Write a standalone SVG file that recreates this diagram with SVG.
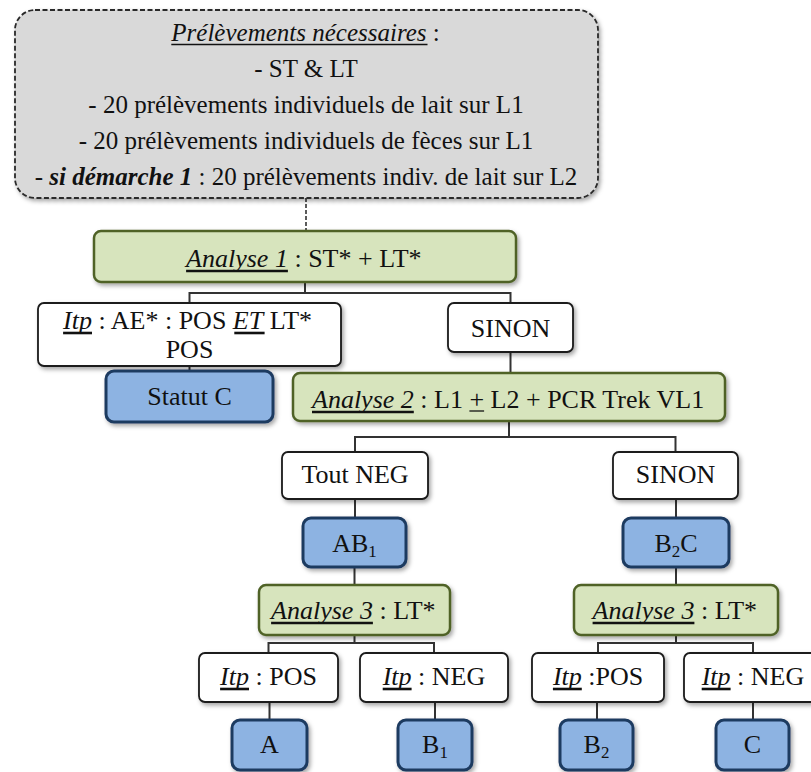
<svg xmlns="http://www.w3.org/2000/svg" width="811" height="772" viewBox="0 0 811 772">
<defs>
<filter id="sh" x="-10%" y="-10%" width="125%" height="140%">
<feDropShadow dx="2" dy="2.5" stdDeviation="2" flood-color="#000" flood-opacity="0.35"/>
</filter>
<style>
text{font-family:"Liberation Serif","Times New Roman",serif;fill:#111;}
.t25{font-size:25px;}
.t26{font-size:26px;}
.it{font-style:italic;}
.bi{font-style:italic;font-weight:bold;}
.sub{font-size:17px;}
.mid{text-anchor:middle;}
.top{fill:#d9d9d9;stroke:#2a2a2a;stroke-width:1.8;stroke-dasharray:5 2.5;filter:url(#sh);}
.green{fill:#d7e4bd;stroke:#4f6228;stroke-width:2.5;filter:url(#sh);}
.blue{fill:#8db3e2;stroke:#1f3a60;stroke-width:3;filter:url(#sh);}
.white{fill:#fff;stroke:#1a1a1a;stroke-width:1.8;filter:url(#sh);}
.ul{stroke:#111;stroke-width:2.6;}
.ulthin{stroke:#111;stroke-width:1.3;}
.conn{fill:none;stroke:#333;stroke-width:2;}
.dash{fill:none;stroke:#333;stroke-width:1.6;stroke-dasharray:4 2;}
</style>
</defs>

<g id="connectors">
<path class="dash" d="M306 198 V231"/>
<path class="conn" d="M305 282 V293 M189.5 303 V293 H510.5 V303"/>
<path class="conn" d="M189.5 366 V371"/>
<path class="conn" d="M510.5 352 V373"/>
<path class="conn" d="M509 421 V437 M355 452 V437 H675.5 V452"/>
<path class="conn" d="M355 499 V518 M354.5 567 V585"/>
<path class="conn" d="M676 499 V518 M676 567 V585"/>
<path class="conn" d="M354.5 635 V643 M268.5 653 V643 H434 V653"/>
<path class="conn" d="M676 635 V643 M598 653 V643 H753 V653"/>
<path class="conn" d="M269.5 702 V720 M435 702 V720 M597 702 V720 M753 702 V720"/>
</g>

<g id="prelevements">
<rect class="top" x="15" y="10" width="583" height="188" rx="20" ry="20"/>
<text class="t25" x="171.3" y="41"><tspan class="it">Prélèvements nécessaires</tspan> :</text>
<line class="ulthin" x1="171.3" y1="44.5" x2="427.5" y2="44.5"/>
<text class="t25 mid" x="306" y="77">- ST &amp; LT</text>
<text class="t25 mid" x="306" y="113">- 20 prélèvements individuels de lait sur L1</text>
<text class="t25 mid" x="306" y="149">- 20 prélèvements individuels de fèces sur L1</text>
<text class="t25 mid" x="306" y="185">- <tspan class="bi">si démarche 1</tspan> : 20 prélèvements indiv. de lait sur L2</text>
</g>

<g id="analyse1">
<rect class="green" x="94" y="231" width="422" height="51" rx="7" ry="7"/>
<text class="t26" x="186.1" y="267"><tspan class="it">Analyse 1</tspan> : ST* + LT*</text>
<line class="ul" x1="186.1" y1="271" x2="287.9" y2="271"/>
</g>

<g id="itp1">
<rect class="white" x="38" y="303" width="303" height="63" rx="6" ry="6"/>
<text class="t26" x="63.1" y="329"><tspan class="it">Itp</tspan> : AE* : POS <tspan class="it">ET</tspan> LT*</text>
<line class="ul" x1="63.1" y1="333" x2="92" y2="333"/>
<line class="ul" x1="234.3" y1="333" x2="264.6" y2="333"/>
<text class="t26 mid" x="189.5" y="358">POS</text>
</g>

<g id="sinon1">
<rect class="white" x="448" y="303" width="125" height="49" rx="6" ry="6"/>
<text class="t26 mid" x="510.5" y="337">SINON</text>
</g>

<g id="statutC">
<rect class="blue" x="106" y="371" width="167" height="51" rx="8" ry="8"/>
<text class="t26 mid" x="189.5" y="405">Statut C</text>
</g>

<g id="analyse2">
<rect class="green" x="293" y="373" width="432" height="48" rx="7" ry="7"/>
<text class="t26" x="312" y="408"><tspan class="it">Analyse 2</tspan> : L1 + L2 + PCR Trek VL1</text>
<line class="ul" x1="312" y1="412" x2="413.8" y2="412"/>
<line class="ulthin" x1="469.4" y1="411" x2="484.1" y2="411"/>
</g>

<g id="toutNEG">
<rect class="white" x="282" y="452" width="146" height="47" rx="6" ry="6"/>
<text class="t26 mid" x="355" y="483">Tout NEG</text>
</g>

<g id="sinon2">
<rect class="white" x="613" y="452" width="125" height="47" rx="6" ry="6"/>
<text class="t26 mid" x="675.5" y="483">SINON</text>
</g>

<g id="AB1">
<rect class="blue" x="303" y="518" width="103" height="49" rx="8" ry="8"/>
<text class="t26 mid" x="354.5" y="552">AB<tspan class="sub" dy="5">1</tspan></text>
</g>

<g id="B2C">
<rect class="blue" x="623" y="518" width="106" height="49" rx="8" ry="8"/>
<text class="t26 mid" x="676" y="552">B<tspan class="sub" dy="5">2</tspan><tspan dy="-5">C</tspan></text>
</g>

<g id="analyse3a">
<rect class="green" x="259" y="585" width="191" height="50" rx="7" ry="7"/>
<text class="t26" x="271.1" y="619"><tspan class="it">Analyse 3</tspan> : LT*</text>
<line class="ul" x1="271.1" y1="623" x2="372.9" y2="623"/>
</g>

<g id="analyse3b">
<rect class="green" x="574" y="585" width="204" height="50" rx="7" ry="7"/>
<text class="t26" x="592.6" y="619"><tspan class="it">Analyse 3</tspan> : LT*</text>
<line class="ul" x1="592.6" y1="623" x2="694.4" y2="623"/>
</g>

<g id="itpPOS1">
<rect class="white" x="199" y="653" width="139" height="49" rx="6" ry="6"/>
<text class="t26" x="220.1" y="685"><tspan class="it">Itp</tspan> : POS</text>
<line class="ul" x1="220.1" y1="689" x2="249" y2="689"/>
</g>

<g id="itpNEG1">
<rect class="white" x="360" y="653" width="148" height="49" rx="6" ry="6"/>
<text class="t26" x="382.7" y="685"><tspan class="it">Itp</tspan> : NEG</text>
<line class="ul" x1="382.7" y1="689" x2="411.6" y2="689"/>
</g>

<g id="itpPOS2">
<rect class="white" x="532" y="653" width="132" height="49" rx="6" ry="6"/>
<text class="t26" x="552.9" y="685"><tspan class="it">Itp</tspan> :POS</text>
<line class="ul" x1="552.9" y1="689" x2="581.8" y2="689"/>
</g>

<g id="itpNEG2">
<rect class="white" x="684" y="653" width="140" height="49" rx="6" ry="6"/>
<text class="t26" x="701.7" y="685"><tspan class="it">Itp</tspan> : NEG</text>
<line class="ul" x1="701.7" y1="689" x2="730.6" y2="689"/>
</g>

<g id="A">
<rect class="blue" x="232" y="720" width="75" height="50" rx="8" ry="8"/>
<text class="t26 mid" x="269.5" y="753">A</text>
</g>

<g id="B1">
<rect class="blue" x="398" y="720" width="74" height="50" rx="8" ry="8"/>
<text class="t26 mid" x="435" y="753">B<tspan class="sub" dy="5">1</tspan></text>
</g>

<g id="B2">
<rect class="blue" x="560" y="720" width="73" height="50" rx="8" ry="8"/>
<text class="t26 mid" x="596.5" y="753">B<tspan class="sub" dy="5">2</tspan></text>
</g>

<g id="C">
<rect class="blue" x="716" y="720" width="73" height="50" rx="8" ry="8"/>
<text class="t26 mid" x="752.5" y="753">C</text>
</g>
</svg>
